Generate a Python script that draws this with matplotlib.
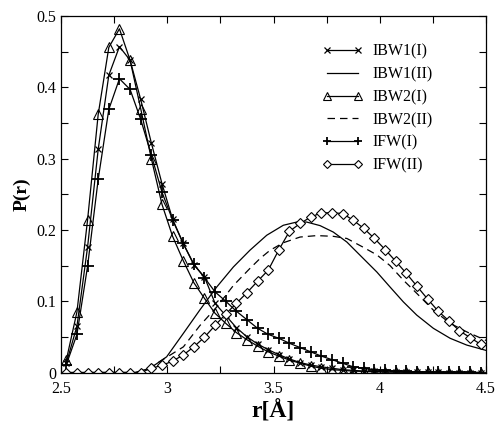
import numpy as np
import matplotlib
matplotlib.use("Agg")
import matplotlib.pyplot as plt
from matplotlib.ticker import MultipleLocator, FixedLocator

# ---- data ----
r = [2.525 + 0.05 * k for k in range(40)]

ibw1_I = [0.013, 0.065, 0.176, 0.313, 0.417, 0.457, 0.438, 0.383, 0.322, 0.265,
          0.215, 0.181, 0.151, 0.134, 0.097, 0.080, 0.063, 0.050, 0.040, 0.032,
          0.025, 0.019, 0.014, 0.0105, 0.008, 0.006, 0.004, 0.003, 0.002, 0.0015,
          0.001, 0.0008, 0.0005, 0.0003, 0.0002, 0.0001, 0.0, 0.0, 0.0, 0.0]

ibw2_I = [0.0175, 0.085, 0.214, 0.362, 0.456, 0.482, 0.438, 0.370, 0.300, 0.236,
          0.191, 0.157, 0.126, 0.104, 0.083, 0.069, 0.056, 0.046, 0.037, 0.029,
          0.023, 0.0175, 0.013, 0.009, 0.006, 0.004, 0.003, 0.002, 0.0015, 0.001,
          0.0007, 0.0005, 0.0003, 0.0002, 0.0001, 0.0, 0.0, 0.0, 0.0, 0.0]

ifw_I = [0.011, 0.0535, 0.149, 0.271, 0.369, 0.412, 0.397, 0.355, 0.305, 0.253,
         0.214, 0.181, 0.152, 0.133, 0.113, 0.100, 0.086, 0.074, 0.062, 0.0535,
         0.048, 0.041, 0.035, 0.029, 0.023, 0.018, 0.013, 0.008, 0.006, 0.004,
         0.003, 0.002, 0.0015, 0.001, 0.0007, 0.0005, 0.0003, 0.0002, 0.0001, 0.0]

ifw_II = [0.0, 0.0, 0.0, 0.0, 0.0, 0.0, 0.0, 0.0, 0.006, 0.010,
          0.016, 0.0245, 0.036, 0.0495, 0.066, 0.082, 0.097, 0.112, 0.128, 0.1435,
          0.172, 0.198, 0.209, 0.218, 0.224, 0.224, 0.223, 0.2136, 0.202, 0.188,
          0.1725, 0.156, 0.139, 0.121, 0.103, 0.086, 0.0725, 0.0585, 0.049, 0.0395]

r_ibw1_II = [2.5, 2.848, 2.919, 2.997, 3.076, 3.154, 3.233, 3.311, 3.389, 3.468,
             3.546, 3.609, 3.656, 3.719, 3.781, 3.845, 3.907, 3.986, 4.048, 4.111,
             4.174, 4.252, 4.331, 4.409, 4.5]
ibw1_II = [0.0, 0.0, 0.006, 0.022, 0.055, 0.088, 0.120, 0.148, 0.1715, 0.1925,
           0.2065, 0.211, 0.211, 0.206, 0.197, 0.183, 0.1645, 0.141, 0.120, 0.099,
           0.0805, 0.062, 0.048, 0.0385, 0.031]

r_ibw2_II = [2.5, 2.86, 2.925, 3.076, 3.154, 3.233, 3.311, 3.389, 3.437, 3.484,
             3.546, 3.625, 3.703, 3.781, 3.845, 3.92, 3.986, 4.048, 4.111, 4.174,
             4.252, 4.331, 4.409, 4.5]
ibw2_II = [0.0, 0.0, 0.008, 0.036, 0.066, 0.092, 0.122, 0.146, 0.160, 0.1715,
           0.182, 0.190, 0.192, 0.191, 0.188, 0.176, 0.165, 0.150, 0.1295, 0.111,
           0.0875, 0.069, 0.057, 0.045]

labels = ["IBW1(I)", "IBW1(II)", "IBW2(I)", "IBW2(II)", "IFW(I)", "IFW(II)"]
xticks = [2.5, 3, 3.5, 4, 4.5]
xticklabels = ["2.5", "3", "3.5", "4", "4.5"]
yticks = [0, 0.1, 0.2, 0.3, 0.4, 0.5]
yticklabels = ["0", "0.1", "0.2", "0.3", "0.4", "0.5"]

# ---- plot ----
plt.rcParams['font.family'] = ['Liberation Serif', 'DejaVu Serif']

fig = plt.figure(figsize=(4.98, 4.32), dpi=100)
ax = fig.add_axes([0.1225, 0.1377, 0.8535, 0.8253])

lw = 0.9
ax.plot(r, ibw1_I, color='black', lw=lw, marker='x', ms=5, mew=0.9, label=labels[0])
ax.plot(r_ibw1_II, ibw1_II, color='black', lw=lw, label=labels[1])
ax.plot(r, ibw2_I, color='black', lw=lw, marker='^', ms=7, mfc='none', mew=0.8, label=labels[2])
ax.plot(r_ibw2_II, ibw2_II, color='black', lw=lw, ls=(0, (6, 4)), label=labels[3])
ax.plot(r, ifw_I, color='black', lw=lw, marker='+', ms=8, mew=1.3, label=labels[4])
ax.plot(r, ifw_II, color='black', lw=lw, marker='D', ms=5.3, mfc='white', mew=0.8, label=labels[5])

ax.set_xlim(2.5, 4.5)
ax.set_ylim(0, 0.5)
ax.xaxis.set_major_locator(FixedLocator(xticks))
ax.set_xticklabels(xticklabels)
ax.xaxis.set_minor_locator(MultipleLocator(0.25))
ax.yaxis.set_major_locator(FixedLocator(yticks))
ax.set_yticklabels(yticklabels)
ax.yaxis.set_minor_locator(MultipleLocator(0.05))
ax.tick_params(which='both', direction='in', top=True, right=True, length=5, width=0.8,
               labelsize=11.5)
ax.tick_params(axis='x', pad=6)
for s in ax.spines.values():
    s.set_linewidth(0.9)

ax.set_xlabel('r[Å]', fontsize=17, fontweight='bold', labelpad=2)
ax.set_ylabel('P(r)', fontsize=14, fontweight='bold', labelpad=4)

leg = ax.legend(loc='upper left', bbox_to_anchor=(0.614, 0.922), frameon=False,
                fontsize=11.5, numpoints=2, handlelength=2.55, handletextpad=0.6,
                labelspacing=0.42, borderpad=0, borderaxespad=0, markerscale=0.75)

fig.savefig('out.png', dpi=100)
